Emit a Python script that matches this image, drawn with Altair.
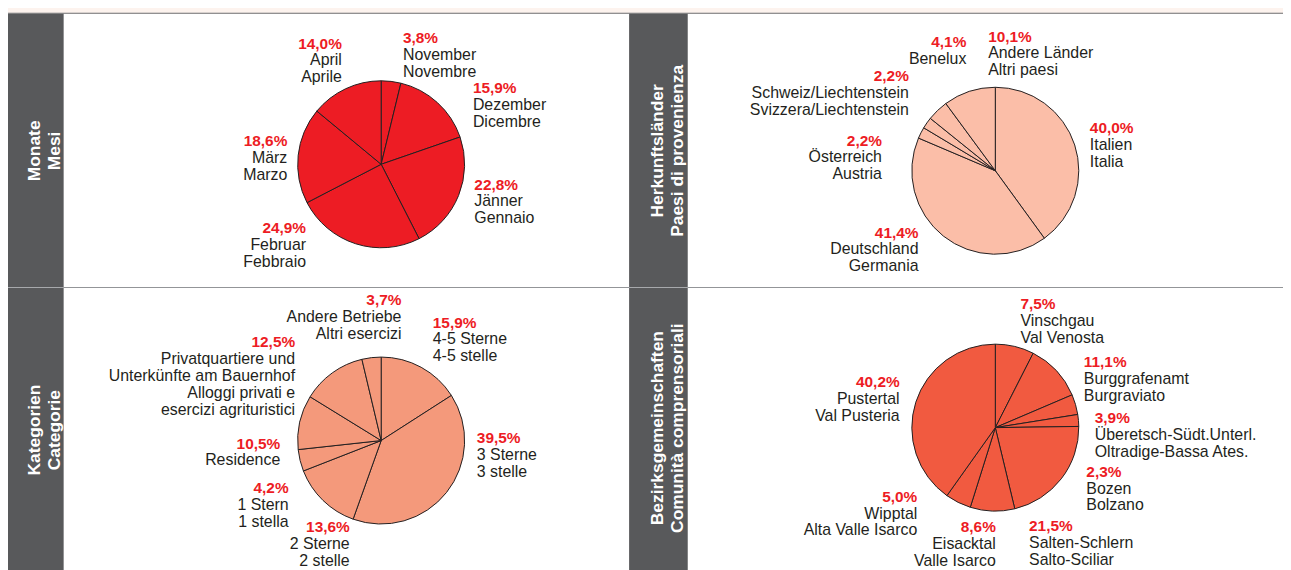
import math
import altair as alt
import pandas as pd

# ---------------- data (clockwise from 12 o'clock) ----------------
monate_labels = ["November\nNovembre", "Dezember\nDicembre", "Jänner\nGennaio",
                 "Februar\nFebbraio", "März\nMarzo", "April\nAprile"]
monate_values = [3.8, 15.9, 22.8, 24.9, 18.6, 14.0]

herkunft_labels = ["Italien\nItalia", "Deutschland\nGermania", "Österreich\nAustria",
                   "Schweiz/Liechtenstein\nSvizzera/Liechtenstein", "Benelux",
                   "Andere Länder\nAltri paesi"]
herkunft_values = [40.0, 41.4, 2.2, 2.2, 4.1, 10.1]

kategorien_labels = ["4-5 Sterne\n4-5 stelle", "3 Sterne\n3 stelle", "2 Sterne\n2 stelle",
                     "1 Stern\n1 stella", "Residence",
                     "Privatquartiere und\nUnterkünfte am Bauernhof\nAlloggi privati e\nesercizi agrituristici",
                     "Andere Betriebe\nAltri esercizi"]
kategorien_values = [15.9, 39.5, 13.6, 4.2, 10.5, 12.5, 3.7]

bezirk_labels = ["Vinschgau\nVal Venosta", "Burggrafenamt\nBurgraviato",
                 "Überetsch-Südt.Unterl.\nOltradige-Bassa Ates.", "Bozen\nBolzano",
                 "Salten-Schlern\nSalto-Sciliar", "Eisacktal\nValle Isarco",
                 "Wipptal\nAlta Valle Isarco", "Pustertal\nVal Pusteria"]
bezirk_values = [7.5, 11.1, 3.9, 2.3, 21.5, 8.6, 5.0, 40.2]

panel_titles = ["Monate\nMesi", "Herkunftsländer\nPaesi di provenienza",
                "Kategorien\nCategorie", "Bezirksgemeinschaften\nComunità comprensoriali"]

# ---------------- layout / style ----------------
W, H = 1283, 562
OFF = 8                      # page margin
PIE_R = 84
LABEL_R = 100
LINE = 17
FONT = "Liberation Sans"
RED = "#ed1c24"
DARK = "#231f20"
BAND = "#58595b"
PINK = "#fdf3ee"

# label placement nudges: (align, dx, dy) relative to polar anchor at mid-angle
layout_monate = [("left", 10, -23), ("left", 25, 2), ("left", 1, -12),
                 ("right", -45, -26), ("right", 5, -8), ("right", 3, -26)]
layout_herkunft = [("left", 0, -7), ("right", -15, -11), ("right", -25, 20),
                   ("right", -5, -33), ("right", 40, -52), ("left", 24, -35)]
layout_kategorien = [("left", 4, -26), ("left", 18, -60), ("right", 38, 20),
                     ("right", 4, 29), ("right", -4, 30), ("right", -28, -13),
                     ("right", 32, -37)]
layout_bezirk = [("left", 2, -22), ("left", 16, 7), ("left", 4, 23), ("left", -8, 58),
                 ("left", -45, 43), ("right", 4, 5), ("right", -34, -15),
                 ("right", -1, -10)]

panels = [
    dict(labels=monate_labels, values=monate_values, layout=layout_monate,
         center=(383.5, 163.5), fill="#ed1c24"),
    dict(labels=herkunft_labels, values=herkunft_values, layout=layout_herkunft,
         center=(1001.5, 170), fill="#fbbea8"),
    dict(labels=kategorien_labels, values=kategorien_values, layout=layout_kategorien,
         center=(383.5, 441.5), fill="#f4997b"),
    dict(labels=bezirk_labels, values=bezirk_values, layout=layout_bezirk,
         center=(1001.5, 428.5), fill="#f15a40"),
]

layers = []

# ---------------- decorations ----------------
deco = pd.DataFrame([
    dict(x=6, x2=1300, y=12, y2=600, fill="#ffffff"),
    dict(x=5, x2=1300, y=11, y2=12, fill="#6d6e71"),
    dict(x=5, x2=6, y=11, y2=600, fill="#a7a9ac"),
    dict(x=6, x2=64, y=12, y2=600, fill=BAND),
    dict(x=633, x2=692, y=12, y2=600, fill=BAND),
    dict(x=64, x2=1300, y=287, y2=288, fill="#939598"),
    dict(x=6, x2=64, y=287, y2=288, fill="#a7a9ac"),
    dict(x=633, x2=692, y=287, y2=288, fill="#a7a9ac"),
])
for c in ["x", "x2", "y", "y2"]:
    deco[c] = deco[c] - OFF
layers.append(
    alt.Chart(deco).mark_rect().encode(
        x=alt.X("x:Q", scale=None, axis=None), x2="x2:Q",
        y=alt.Y("y:Q", scale=None, axis=None), y2="y2:Q",
        fill=alt.Fill("fill:N", scale=None),
    )
)

titles = pd.DataFrame(dict(
    text=panel_titles,
    x=[35 - OFF, 662.5 - OFF, 35 - OFF, 662.5 - OFF],
    y=[150 - OFF, 150 - OFF, 431 - OFF, 429 - OFF],
))
layers.append(
    alt.Chart(titles).mark_text(
        angle=270, align="center", baseline="middle", font=FONT, fontSize=17.5,
        fontWeight="bold", color="#ffffff", lineBreak="\n", lineHeight=20,
    ).encode(x=alt.X("x:Q", scale=None, axis=None),
             y=alt.Y("y:Q", scale=None, axis=None), text="text:N")
)

# ---------------- pies + labels ----------------
for p in panels:
    cx, cy = p["center"]
    total = sum(p["values"])
    rows = []
    cum = 0.0
    for i, (lab, v) in enumerate(zip(p["labels"], p["values"])):
        mid = (cum + v / 2) / total * 2 * math.pi
        cum += v
        align, ndx, ndy = p["layout"][i]
        lx = cx + LABEL_R * math.sin(mid) + ndx - OFF
        ly = cy - LABEL_R * math.cos(mid) + ndy - OFF
        rows.append(dict(idx=i, name=lab, value=v,
                         pct=f"{v:.1f}".replace(".", ",") + "%",
                         lx=lx, ly=ly, ly2=ly + LINE, align=align))
    df = pd.DataFrame(rows)

    layers.append(
        alt.Chart(df[["idx", "value"]]).mark_arc(
            outerRadius=PIE_R, stroke=DARK, strokeWidth=1, fill=p["fill"],
        ).encode(
            theta=alt.Theta("value:Q").stack(True),
            order=alt.Order("idx:Q", sort="ascending"),
            x=alt.value(cx - OFF), y=alt.value(cy - OFF),
        )
    )

    for a in ("left", "right"):
        sub = df[df["align"] == a]
        if sub.empty:
            continue
        layers.append(
            alt.Chart(sub).mark_text(
                align=a, baseline="alphabetic", font=FONT, fontSize=15.5,
                fontWeight="bold", color=RED,
            ).encode(x=alt.X("lx:Q", scale=None, axis=None),
                     y=alt.Y("ly:Q", scale=None, axis=None), text="pct:N")
        )
        layers.append(
            alt.Chart(sub).mark_text(
                align=a, baseline="alphabetic", font=FONT, fontSize=16,
                color=DARK, lineBreak="\n", lineHeight=LINE,
            ).encode(x=alt.X("lx:Q", scale=None, axis=None),
                     y=alt.Y("ly2:Q", scale=None, axis=None), text="name:N")
        )

chart = alt.layer(*layers).properties(
    width=W, height=H,
    autosize=alt.AutoSizeParams(type="none"),
    padding=0,
    background=PINK,
).resolve_scale(theta="independent").configure_view(strokeWidth=0)

chart.save("out.html", embed_options={"renderer": "svg", "actions": False})
